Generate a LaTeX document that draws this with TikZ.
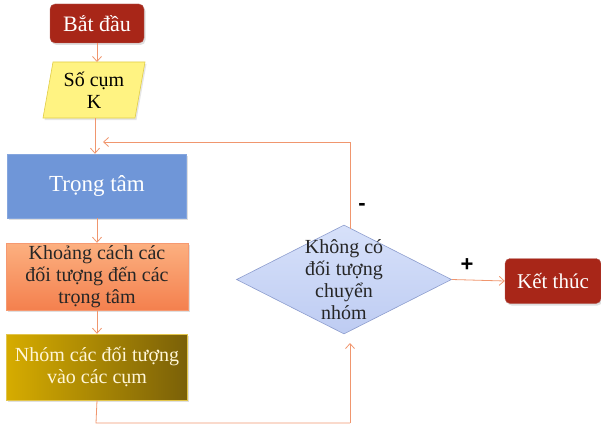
\documentclass[tikz,border=0pt]{standalone}
\usepackage{fontspec}
\setmainfont{Liberation Serif}
\newfontfamily\signfont{Liberation Sans}
\usetikzlibrary{arrows.meta,shapes.geometric,shadows}
\definecolor{redbox}{RGB}{168,38,24}
\definecolor{redboxdark}{RGB}{150,30,18}
\definecolor{bluebox}{RGB}{111,150,216}
\definecolor{yellowbox}{RGB}{255,243,130}
\definecolor{yellowedge}{RGB}{225,205,70}
\definecolor{orangetop}{RGB}{252,176,128}
\definecolor{orangebot}{RGB}{244,128,78}
\definecolor{goldleft}{RGB}{214,172,0}
\definecolor{goldright}{RGB}{122,96,8}
\definecolor{diatop}{RGB}{215,225,250}
\definecolor{diabot}{RGB}{190,204,242}
\definecolor{diaedge}{RGB}{140,156,205}
\definecolor{arrowc}{RGB}{240,150,110}
\definecolor{paletext}{RGB}{255,246,215}
\tikzset{
  base/.style={font=\fontsize{20}{22}\selectfont, align=center, inner sep=0pt,
    drop shadow={opacity=0.25, shadow xshift=1.5pt, shadow yshift=-2pt}},
  terminal/.style={base, rectangle, rounded corners=5pt, fill=redbox, draw=redboxdark!70!white,
    text=white},
  bluerect/.style={base, rectangle, fill=bluebox, draw=bluebox!85!white, text=white},
  orangerect/.style={base, rectangle, top color=orangetop, bottom color=orangebot, draw=orangebot!80!white, text=black!85},
  goldrect/.style={base, rectangle, left color=goldleft, right color=goldright, draw=goldleft!70!white, text=paletext},
  dshape/.style={diamond, inner sep=0pt, top color=diatop, bottom color=diabot, draw=diaedge, line width=0.6pt},
  plaintext/.style={font=\fontsize{20}{22}\selectfont, align=center, inner sep=0pt},
  ln/.style={draw=arrowc, line width=0.8pt},
  arr/.style={ln, -{Straight Barb[length=5pt,width=9pt]}},
  sign/.style={font=\signfont\bfseries\fontsize{22}{24}\selectfont, text=black, inner sep=0pt}
}
\begin{document}
\begin{tikzpicture}[x=1pt,y=-1pt]
\useasboundingbox (0,0) rectangle (601,425);

% start
\node[terminal, minimum width=94pt, minimum height=39pt, font=\fontsize{22}{24}\selectfont] (start) at (97,23.5) {Bắt đầu};

% parallelogram (input)
\coordinate (p1) at (53,62);
\coordinate (p2) at (145,62);
\coordinate (p3) at (135,118);
\coordinate (p4) at (43,118);
\path[fill=yellowbox, draw=yellowedge, line width=0.6pt,
  drop shadow={opacity=0.2, shadow xshift=1.5pt, shadow yshift=-2pt}]
  (p1) -- (p2) -- (p3) -- (p4) -- cycle;
\node[plaintext, text=black] (sk) at (94,90) {Số cụm\\K};
\coordinate (skN) at (97,62);
\coordinate (skS) at (95,118);

% process boxes
\node[bluerect, minimum width=179pt, minimum height=64pt, font=\fontsize{23}{25}\selectfont] (tt) at (97,186) {Trọng tâm};
\node[orangerect, minimum width=182pt, minimum height=67pt] (kc) at (97,276.5) {Khoảng cách các\\đối tượng đến các\\trọng tâm};
\node[goldrect, minimum width=181pt, minimum height=66pt] (nh) at (97,367) {Nhóm các đối tượng\\vào các cụm};

% decision
\node[dshape, minimum width=215pt, minimum height=109pt] (d) at (344,279.5) {};
\node[plaintext, text=black!85] (dt) at (344,280) {Không có\\đối tượng\\chuyển\\nhóm};

% end
\node[terminal, minimum width=96pt, minimum height=45pt, font=\fontsize{21}{23}\selectfont] (end) at (553,281) {Kết thúc};

% helper coordinates
\coordinate (dTop) at (350,229);
\coordinate (loopTop) at (350,142);
\coordinate (loopEnd) at (103,142);
\coordinate (botL) at (96,423);
\coordinate (botR) at (350,423);
\coordinate (dIn) at (350,343);

% connectors
\draw[arr] (start.south) -- (skN);
\draw[arr] (skS) -- (tt.north -| skS);
\draw[arr] (tt.south) -- (kc.north);
\draw[arr] (kc.south) -- (nh.north);
\draw[ln] (nh.south) -- (botL) -- (botR);
\draw[arr] (botR) -- (dIn);
\draw[ln] (dTop) -- (loopTop);
\draw[arr] (loopTop) -- (loopEnd);
\draw[arr] (d.east) -- (end.west);

% labels
\node[sign] (minus) at (362,207) {-};
\node[sign] (plus) at (467,265) {+};
\end{tikzpicture}
\end{document}
